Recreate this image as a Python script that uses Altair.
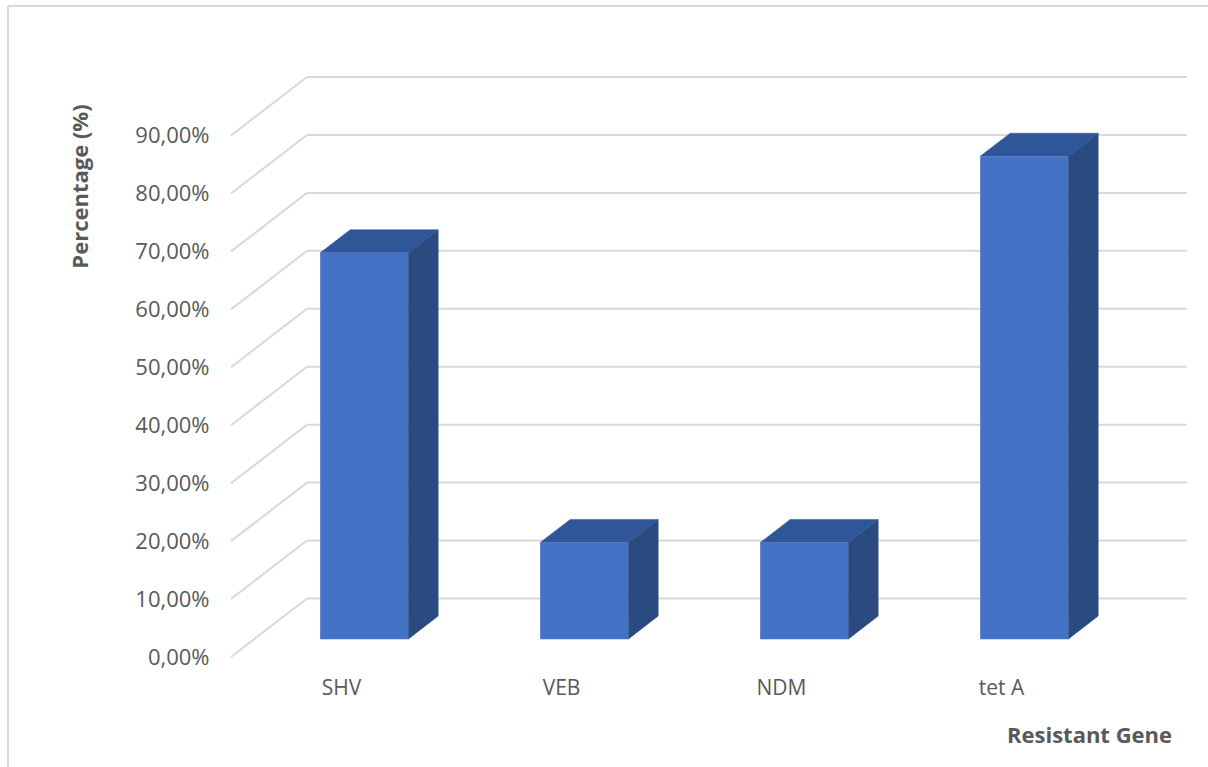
import json
import altair as alt
import pandas as pd

# ---- data ----
categories = ["SHV", "VEB", "NDM", "tet A"]
values = [66.67, 16.67, 16.67, 83.33]          # percent
tick_values = [0, 10, 20, 30, 40, 50, 60, 70, 80, 90]

# ---- 3D geometry (style) ----
DX = 76 / 220      # depth shift in category units
DY = 10.1          # depth shift in percent units
F1, F2 = 0.305, 0.70   # front / back depth of bars
GAP, BW = 0.3, 0.4     # bar start offset and width in a category
N = len(categories)
XMAX = N + DX
YMAX = 90 + DY

FRONT = "#4472C4"
TOP = "#30569A"
SIDE = "#2B4A80"
GRID = "#d9d9d9"
TEXT = "#595959"
FONT = "Open Sans"

xs = alt.Scale(domain=[0, XMAX], nice=False, zero=False)
ys = alt.Scale(domain=[0, YMAX], nice=False, zero=False)

front_rows, side_rows, top_rows = [], [], []
for i, (c, v) in enumerate(zip(categories, values)):
    front_rows.append(dict(cat=c, x=i + GAP + F1 * DX, x2=i + GAP + BW + F1 * DX,
                           y=F1 * DY, y2=v + F1 * DY))
    for f in (F1, F2):
        side_rows.append(dict(cat=c, x=i + GAP + BW + f * DX, y=f * DY, y2=v + f * DY))
        top_rows.append(dict(cat=c, y=v + f * DY, x=i + GAP + f * DX, x2=i + GAP + BW + f * DX))
front = pd.DataFrame(front_rows)
side = pd.DataFrame(side_rows)
top = pd.DataFrame(top_rows)

grid = pd.DataFrame({"t": tick_values})
grid["yb"] = grid["t"] + DY
grid["xb0"] = DX
grid["xb1"] = N + DX
grid["x0"] = 0.0

label_expr_x = json.dumps(categories) + "[floor(datum.value)]"

x_axis = alt.Axis(
    values=[i + 0.5 for i in range(N)], labelExpr=label_expr_x,
    ticks=False, tickSize=0, domain=False, grid=False,
    labelFont=FONT, labelFontSize=21, labelColor=TEXT,
    labelBaseline="middle", labelPadding=31, labelAlign="center",
    title="Resistant Gene", titleFont=FONT, titleFontSize=22,
    titleFontWeight="bold", titleColor=TEXT,
    titleX=858, titleY=78, titleAlign="center", titleBaseline="middle",
)
y_axis = alt.Axis(
    values=tick_values,
    labelExpr="replace(format(datum.value / 100, '.2%'), '.', ',')",
    ticks=False, tickSize=0, domain=False, grid=False,
    labelFont=FONT, labelFontSize=22, labelColor=TEXT,
    labelPadding=22, labelBaseline="middle",
    title="Percentage (%)", titleFont=FONT, titleFontSize=22,
    titleFontWeight="bold", titleColor=TEXT,
    titleX=-151, titleY=109, titleAngle=-90,
    titleAlign="center", titleBaseline="middle",
)

back_lines = alt.Chart(grid).mark_rule(color=GRID, strokeWidth=2).encode(
    x=alt.X("xb0:Q", scale=xs, axis=x_axis),
    x2="xb1:Q",
    y=alt.Y("yb:Q", scale=ys, axis=y_axis),
)
wall_lines = alt.Chart(grid).mark_rule(color=GRID, strokeWidth=2).encode(
    x=alt.X("x0:Q", scale=xs, title="Resistant Gene"),
    x2="xb0:Q",
    y=alt.Y("t:Q", scale=ys, title="Percentage (%)"),
    y2="yb:Q",
)

front_faces = alt.Chart(front).mark_rect(color=FRONT).encode(
    x=alt.X("x:Q", scale=xs, title="Resistant Gene"),
    x2="x2:Q",
    y=alt.Y("y:Q", scale=ys, title="Percentage (%)"),
    y2="y2:Q",
)

side_faces = alt.Chart(side).mark_area(color=SIDE, stroke=SIDE, strokeWidth=0.5).encode(
    x=alt.X("x:Q", scale=xs, title="Resistant Gene"),
    y=alt.Y("y:Q", scale=ys, title="Percentage (%)"),
    y2="y2:Q",
    detail="cat:N",
)

top_faces = alt.Chart(top).mark_area(color=TOP, stroke=TOP, strokeWidth=0.5,
                                     orient="horizontal").encode(
    y=alt.Y("y:Q", scale=ys, title="Percentage (%)"),
    x=alt.X("x:Q", scale=xs, title="Resistant Gene"),
    x2="x2:Q",
    detail="cat:N",
)

# outer chart-area frame (top and left edges visible in the reference)
frame_top = alt.Chart(pd.DataFrame({"a": [0]})).mark_rule(color=GRID, strokeWidth=2).encode(
    x=alt.value(-223), x2=alt.value(1208 - 231), y=alt.value(-71)
)
frame_left = alt.Chart(pd.DataFrame({"a": [0]})).mark_rule(color=GRID, strokeWidth=2).encode(
    x=alt.value(-223), y=alt.value(-71), y2=alt.value(767 - 77)
)

chart = alt.layer(
    back_lines, wall_lines, side_faces, top_faces, front_faces, frame_top, frame_left
).properties(
    width=956, height=580,
    autosize=alt.AutoSizeParams(type="none"),
    padding={"left": 231, "top": 77, "right": 1208 - 231 - 956, "bottom": 767 - 77 - 580},
    background="white",
).configure_view(stroke=None)

chart.save("out.html", embed_options={"renderer": "svg", "actions": False})
